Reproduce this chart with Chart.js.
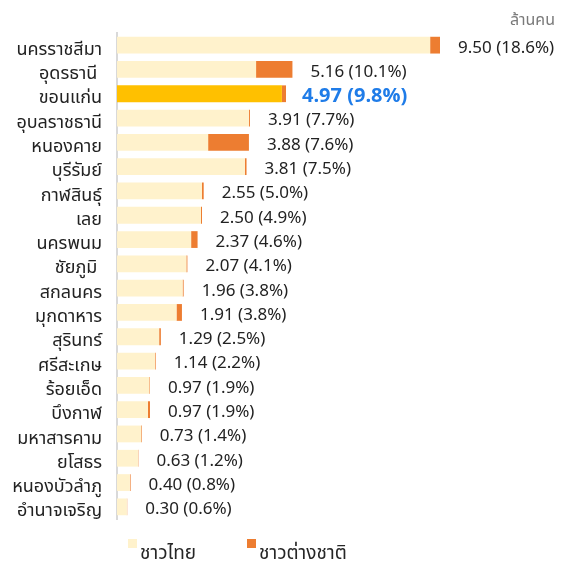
<!DOCTYPE html>
<html>
<head>
<meta charset="utf-8">
<script src="https://cdn.jsdelivr.net/npm/chart.js@4/dist/chart.umd.min.js"></script>
<style>
  html, body { margin: 0; padding: 0; background: #ffffff; }
  #wrap { position: relative; width: 561px; height: 562px; font-family: 'Noto Sans Thai', 'Noto Sans', sans-serif; }
  #c { position: absolute; left: 0; top: 0; }
  #unit { position: absolute; right: 6px; top: 8px; font-size: 16px; color: #7a7a7a; }
  .leg { position: absolute; top: 542px; font-size: 19px; line-height: 24px; color: #262626; }
  .sw { position: absolute; top: -3px; width: 9px; height: 9px; }
</style>
</head>
<body>
<div id="wrap">
  <canvas id="c" width="561" height="562"></canvas>
  <div id="unit">ล้านคน</div>
  <div class="leg" style="left:128px;"><span class="sw" style="left:0;background:#FFF2CC;"></span><span style="margin-left:12px;">ชาวไทย</span></div>
  <div class="leg" style="left:247px;"><span class="sw" style="left:0;background:#ED7D31;"></span><span style="margin-left:12px;">ชาวต่างชาติ</span></div>
</div>
<script>
const provinces = ['นครราชสีมา', 'อุดรธานี ', 'ขอนแก่น', 'อุบลราชธานี', 'หนองคาย', 'บุรีรัมย์', 'กาฬสินธุ์', 'เลย', 'นครพนม', 'ชัยภูมิ ', 'สกลนคร', 'มุกดาหาร', 'สุรินทร์', 'ศรีสะเกษ', 'ร้อยเอ็ด', 'บึงกาฬ', 'มหาสารคาม', 'ยโสธร', 'หนองบัวลำภู', 'อำนาจเจริญ'];
const thai    = [9.21, 4.09, 4.85, 3.88, 2.68, 3.76, 2.50, 2.47, 2.18, 2.04, 1.93, 1.75, 1.24, 1.12, 0.95, 0.91, 0.71, 0.62, 0.38, 0.29];
const foreign = [0.29, 1.07, 0.12, 0.03, 1.20, 0.05, 0.05, 0.03, 0.19, 0.03, 0.03, 0.16, 0.05, 0.02, 0.02, 0.06, 0.02, 0.01, 0.02, 0.01];
const totalLabels = ['9.50', '5.16', '4.97', '3.91', '3.88', '3.81', '2.55', '2.50', '2.37', '2.07', '1.96', '1.91', '1.29', '1.14', '0.97', '0.97', '0.73', '0.63', '0.40', '0.30'];
const shareLabels = ['18.6%', '10.1%', '9.8%', '7.7%', '7.6%', '7.5%', '5.0%', '4.9%', '4.6%', '4.1%', '3.8%', '3.8%', '2.5%', '2.2%', '1.9%', '1.9%', '1.4%', '1.2%', '0.8%', '0.6%'];
const highlight = 'ขอนแก่น';

const FONT = "'Noto Sans Thai', 'Noto Sans', sans-serif";
const thaiColors = provinces.map(p => p === highlight ? '#FFC000' : '#FFF2CC');

const endLabels = {
  id: 'endLabels',
  afterDatasetsDraw(chart) {
    const ctx = chart.ctx;
    const last = chart.getDatasetMeta(chart.data.datasets.length - 1);
    ctx.save();
    ctx.textAlign = 'left';
    ctx.textBaseline = 'middle';
    last.data.forEach((bar, i) => {
      const hl = provinces[i] === highlight;
      ctx.font = (hl ? 'bold 20px ' : '17px ') + FONT;
      ctx.fillStyle = hl ? '#1F7CE8' : '#222222';
      ctx.fillText(totalLabels[i] + ' (' + shareLabels[i] + ')', bar.x + (hl ? 16 : 18), bar.y + 4);
    });
    ctx.restore();
  }
};

new Chart(document.getElementById('c'), {
  type: 'bar',
  data: {
    labels: provinces,
    datasets: [
      { label: 'ชาวไทย', data: thai, backgroundColor: thaiColors, borderWidth: 0 },
      { label: 'ชาวต่างชาติ', data: foreign, backgroundColor: '#ED7D31', borderWidth: 0 }
    ]
  },
  options: {
    indexAxis: 'y',
    responsive: false,
    animation: false,
    devicePixelRatio: 1,
    layout: { padding: { top: 33, bottom: 43, right: 2, left: 0 } },
    datasets: { bar: { categoryPercentage: 1, barPercentage: 0.69 } },
    plugins: { legend: { display: false }, tooltip: { enabled: false } },
    scales: {
      x: {
        stacked: true, min: 0, max: 13,
        display: false
      },
      y: {
        stacked: true,
        grid: { display: false, drawTicks: false },
        border: { display: true, color: '#D9D9D9', width: 2 },
        ticks: { autoSkip: false, padding: 15, color: '#222222', font: { family: FONT, size: 18 }, labelOffset: 6 },
        afterFit(scale) { scale.width = 117; }
      }
    }
  },
  plugins: [endLabels]
});
</script>
</body>
</html>
